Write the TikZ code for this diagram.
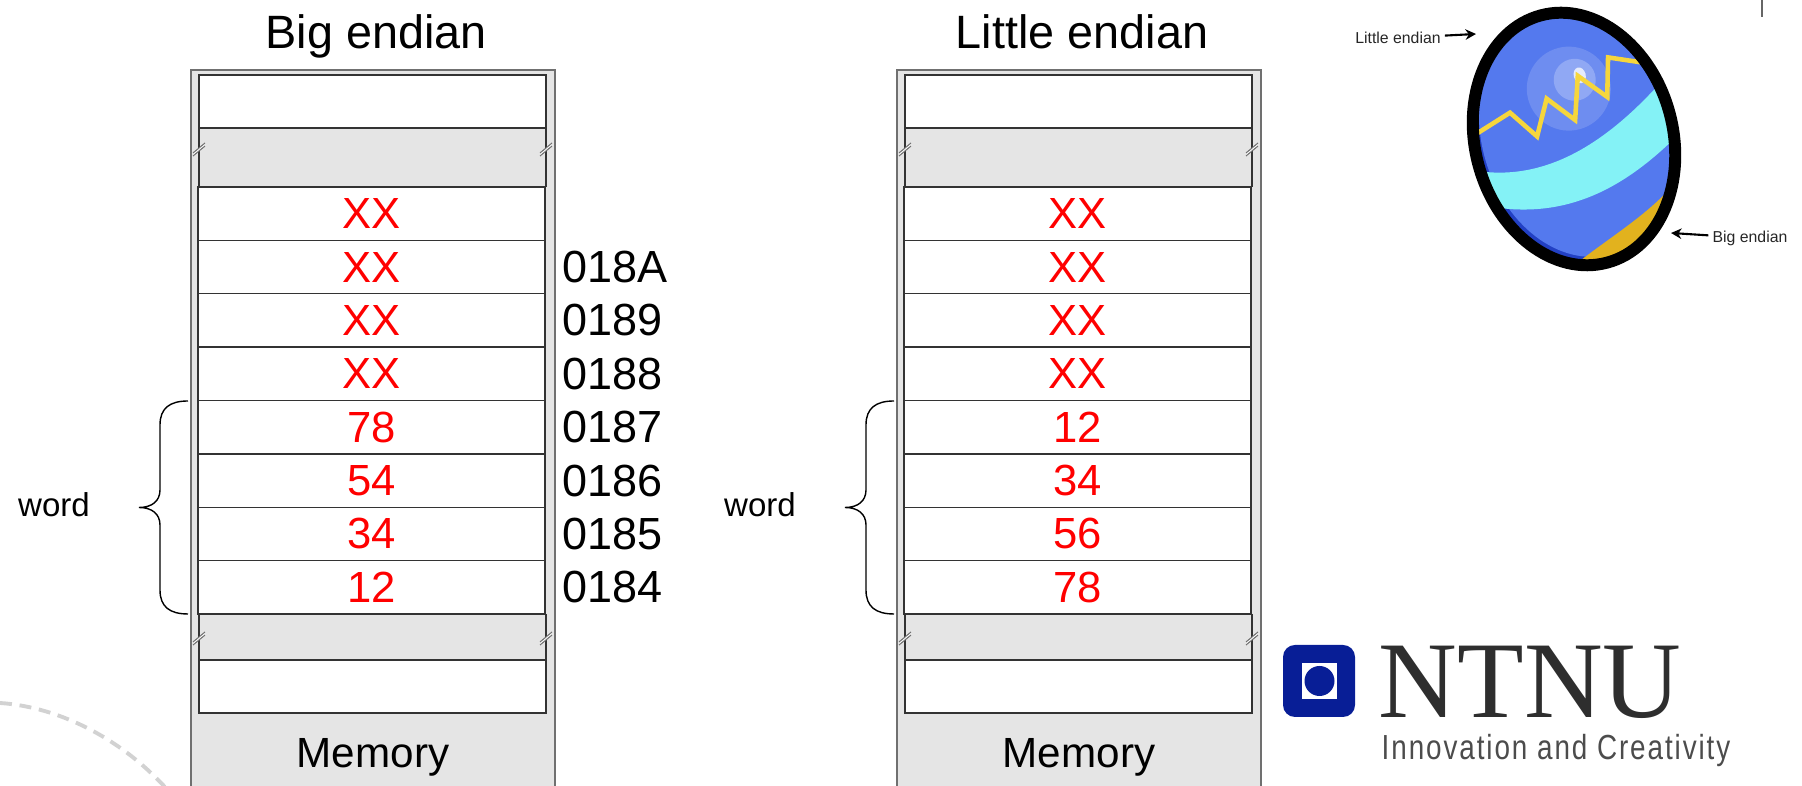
\documentclass[tikz,border=0pt]{standalone}
\usepackage{fontspec}
\setmainfont{Liberation Sans}
\newfontfamily\ntnufont{Liberation Serif}
\newfontfamily\mottofont[FakeStretch=0.8,LetterSpace=5.5]{Liberation Sans}
\usetikzlibrary{arrows.meta}

\definecolor{memgray}{RGB}{229,229,229}
\definecolor{framegray}{RGB}{112,112,112}
\definecolor{eggblue}{RGB}{84,121,238}
\definecolor{eggdark}{RGB}{34,64,196}
\definecolor{eggcyan}{RGB}{132,242,246}
\definecolor{egggold}{RGB}{226,178,30}
\definecolor{eggzig}{RGB}{246,214,60}
\definecolor{ntnublue}{RGB}{8,30,150}
\definecolor{arcgray}{RGB}{210,210,210}

\tikzset{
  cellline/.style={draw=black!80, line width=0.4pt},
  value/.style={text=red, inner sep=0pt, font=\fontsize{12.4}{14}\selectfont},
  addr/.style={anchor=west, inner sep=0pt, font=\fontsize{12.8}{14}\selectfont},
  heading/.style={anchor=base, inner sep=0pt, font=\fontsize{13.3}{15}\selectfont},
  tag/.style={inner sep=1pt, text=black!85, font=\fontsize{4.5}{5}\selectfont},
  tagarrow/.style={-{Stealth[length=3pt,width=3pt]}, line width=0.6pt},
}

% one memory column: x shift, name, heading, the eight byte values
\newcommand\memcolumn[4]{%
  \begin{scope}[shift={(#1,0)}]
    \node (#2-title) [heading] at (376,49) {#3};
    \draw[framegray, fill=memgray, line width=0.6pt] (191,70) rectangle (555,800);
    \draw[cellline, fill=white] (199,75) rectangle (546,128);
    \draw[cellline] (199,128) -- (199,187) (546,128) -- (546,187)
                    (199,614) -- (199,660) (546,614) -- (546,660);
    \foreach \v [count=\i] in {#4}
      \draw[cellline, fill=white] (198,133.625+53.375*\i) rectangle (545,187+53.375*\i)
            node (#2-cell\i) [pos=.5, value] {\v};
    \draw[cellline, fill=white] (199,660) rectangle (546,713);
    \node (#2-mem) [heading, font=\fontsize{12}{14}\selectfont] at (373,768) {Memory};
    % cut marks on the column sides
    \foreach \bx/\by in {199/148, 546/148, 199/637, 546/637} {
      \fill[white] (\bx-6,\by+5) -- (\bx+6,\by-5) -- (\bx+6,\by-2) -- (\bx-6,\by+8) -- cycle;
      \draw[framegray, line width=0.3pt] (\bx-6,\by+5) -- (\bx+6,\by-5) (\bx-6,\by+8) -- (\bx+6,\by-2);
    }
    % the four bytes of one word
    \draw[line width=0.4pt] (188,401) .. controls (170,401) and (160,408) .. (160,425) -- (160,490)
          .. controls (160,501) and (152,507.5) .. (139,507.5)
          .. controls (152,507.5) and (160,514) .. (160,525) -- (160,590)
          .. controls (160,607) and (170,614) .. (188,614);
    \node (#2-word) [font=\fontsize{9.4}{11}\selectfont] at (54,505) {word};
  \end{scope}
}

\begin{document}
\begin{tikzpicture}[x=0.01cm, y=-0.01cm]
  \useasboundingbox (0,0) rectangle (1802,786);
  % dashed arc of the slide background
  \draw[arcgray, line width=1.1pt, dash pattern=on 3.4pt off 2.2pt]
       (0,703) .. controls (60,707) and (125,740) .. (172,795);
  \draw[black!60, line width=0.5pt] (1762,0) -- (1762,17);

  \memcolumn{0}{big}{Big endian}{XX,XX,XX,XX,78,54,34,12}
  \memcolumn{706}{little}{Little endian}{XX,XX,XX,XX,12,34,56,78}

  % addresses next to the big endian column
  \foreach \a [count=\i from 2] in {018A,0189,0188,0187,0186,0185,0184}
    \node (addr\a) [addr] at (562,160.3+53.375*\i) {\a};

  % egg
  \begin{scope}[shift={(1574,139)}, x=0.01cm, y=0.01cm, rotate=15]
    \begin{scope}
      \clip (0,0) ellipse [x radius=99, y radius=128];
      \fill[eggdark] (-110,-140) rectangle (110,140);
      \fill[eggblue] (6,6) ellipse [x radius=97, y radius=127];
      \fill[eggblue!85!white] (8,50) circle [radius=42];
      \fill[eggblue!65!white] (16,57) circle [radius=21];
      \fill[white!85!eggblue] (22,60) ellipse [x radius=6, y radius=8];
      \fill[eggcyan] (-110,-2) .. controls (-50,-32) and (20,-22) .. (110,40) -- (110,-18)
                     .. controls (40,-60) and (-30,-80) .. (-110,-38) -- cycle;
      \fill[egggold] (-45,-128) .. controls (0,-106) and (50,-95) .. (90,-66)
                     -- (110,-66) -- (110,-140) -- (-45,-140) -- cycle;
      \draw[eggzig, line width=1.3pt, line join=miter] (-100,28) -- (-55,42) -- (-35,12)
            -- (-16,46) -- (6,18) -- (20,60) -- (43,32) -- (54,70) -- (100,50);
    \end{scope}
    \draw[line width=3.4pt] (0,0) ellipse [x radius=99, y radius=128];
  \end{scope}
  \node (lelabel) [tag] at (1398,38) {Little endian};
  \node (belabel) [tag] at (1750,238) {Big endian};
  \coordinate (egg-top) at (1476,34);
  \coordinate (egg-bottom) at (1671,233);
  \draw[tagarrow] (lelabel) -- (egg-top);
  \draw[tagarrow] (belabel) -- (egg-bottom);

  % NTNU logo
  \fill[ntnublue, rounded corners=3.4pt] (1283,645) rectangle (1355,717);
  \fill[white] (1302,663) rectangle (1337,699);
  \fill[ntnublue] (1319.5,681) circle [radius=15];
  \node (ntnu) [anchor=base west, inner sep=0pt, text=black!82,
        font=\ntnufont\fontsize{31}{31}\selectfont] at (1378,718) {NTNU};
  \node (motto) [anchor=base west, inner sep=0pt, text=black!70,
        font=\mottofont\fontsize{9.9}{11}\selectfont] at (1381,760) {Innovation and Creativity};
\end{tikzpicture}
\end{document}
